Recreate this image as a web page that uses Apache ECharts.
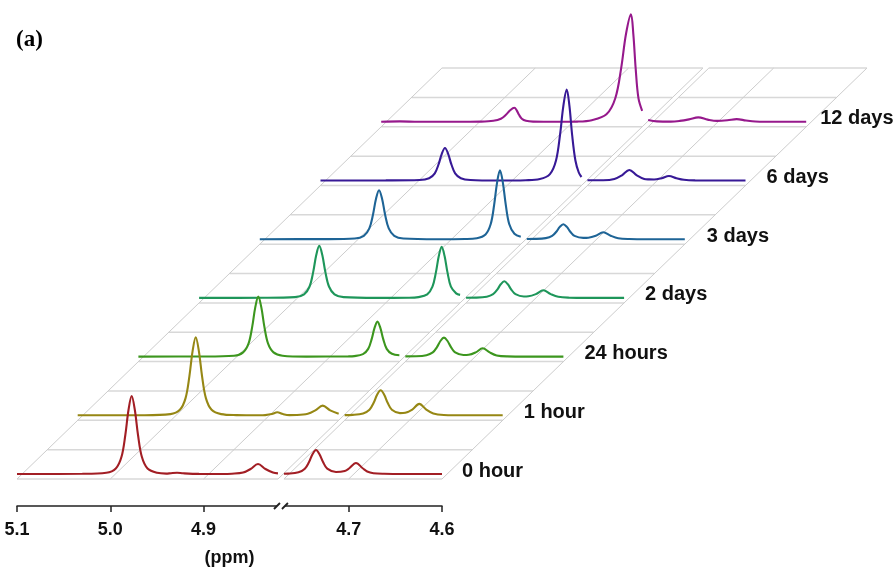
<!DOCTYPE html>
<html><head><meta charset="utf-8">
<script src="https://cdn.jsdelivr.net/npm/echarts@6/dist/echarts.min.js"></script>
<style>html,body{margin:0;padding:0;background:#fff}#c{width:895px;height:567px}</style>
</head><body><div id="c"></div>
<script>
// ---- data (ppm, intensity) ----
const seriesNames = ['0 hour', '1 hour', '24 hours', '2 days', '3 days', '6 days', '12 days'];
const tickValues = [5.1, 5.0, 4.9, 4.7, 4.6];
const breakStart = 4.7694, breakEnd = 4.8203;   // omitted HDO region

const spec0h = [[5.1,0],[5.03,0.2],[5.0043,1.2],[4.9941,5.5],[4.988,17.2],[4.9839,39],[4.9805,64],[4.9771,78],[4.9737,64],[4.9703,39],[4.9662,17.2],[4.9601,5.5],[4.9499,1.2],[4.94,0.4],[4.935,0.8],[4.9285,1.2],[4.922,0.7],[4.905,0.1],[4.88,0],[4.8697,0.3],[4.8577,1.5],[4.8497,5],[4.8417,10],[4.8337,5],[4.8257,1.5],[4.8203,0.6],[4.795,'-'],[4.7694,0.3],[4.765,0.4],[4.7538,1.7],[4.747,5.3],[4.7425,12],[4.7388,19.7],[4.735,24],[4.7313,19.7],[4.7275,12],[4.723,5.3],[4.7136,2],[4.7042,3],[4.6997,5.5],[4.6922,11],[4.6847,5.5],[4.6802,2.5],[4.6735,0.8],[4.6622,0.2],[4.64,0],[4.6,0]];
const spec1h = [[5.1,0],[5.03,0.1],[5.0007,1.2],[4.9905,5.5],[4.9844,17.2],[4.9803,39],[4.9769,64],[4.9735,78],[4.9701,64],[4.9667,39],[4.9626,17.2],[4.9565,5.5],[4.9463,1.2],[4.93,0.2],[4.905,0],[4.899,0.2],[4.892,1.2],[4.8861,3],[4.88,1.2],[4.873,0.2],[4.8654,0.3],[4.8534,1.5],[4.8454,4.9],[4.8374,9.7],[4.8294,4.9],[4.8203,1.5],[4.795,'-'],[4.7694,0.2],[4.7608,0.4],[4.7496,1.8],[4.7428,5.5],[4.7383,12.5],[4.7346,20.5],[4.7308,25],[4.727,20.5],[4.7233,12.5],[4.7188,5.5],[4.7101,2.2],[4.7044,2.6],[4.6969,5.7],[4.6894,11.4],[4.6819,5.7],[4.6744,1.7],[4.6631,0.3],[4.64,0],[4.6,0]];
const spec24h = [[5.1,0],[5.03,0.1],[4.9975,0.9],[4.9878,4.2],[4.9819,13.2],[4.978,30],[4.9748,49],[4.9715,60],[4.9682,49],[4.965,30],[4.9611,13.2],[4.9552,4.2],[4.9455,0.9],[4.92,0],[4.875,0.2],[4.8686,0.5],[4.8593,2.5],[4.8537,7.7],[4.85,17.5],[4.8469,28.7],[4.8438,35],[4.8407,28.7],[4.8376,17.5],[4.8339,7.7],[4.8283,2.8],[4.8203,1.3],[4.795,'-'],[4.7694,0.2],[4.758,0.3],[4.7468,1.3],[4.74,4.2],[4.7355,9.5],[4.7318,15.6],[4.728,19],[4.7242,15.6],[4.7205,9.5],[4.716,4.2],[4.7072,1.6],[4.7015,1.8],[4.694,4.2],[4.6865,8.3],[4.679,4.2],[4.6715,1.2],[4.6603,0.2],[4.64,0],[4.6,0]];
const spec2d = [[5.1,0],[5.03,0.1],[4.9972,0.8],[4.9875,3.6],[4.9816,11.4],[4.9777,26],[4.9745,42.6],[4.9712,52],[4.9679,42.6],[4.9647,26],[4.9608,11.4],[4.9549,3.6],[4.9452,0.8],[4.91,0],[4.875,0.1],[4.8648,0.8],[4.8555,3.6],[4.8499,11.2],[4.8462,25.5],[4.8431,41.8],[4.84,51],[4.8369,41.8],[4.8338,25.5],[4.8301,11.2],[4.8245,4.5],[4.8203,3],[4.795,'-'],[4.7694,0.2],[4.7584,0.3],[4.7472,1.2],[4.7404,3.7],[4.7359,8.3],[4.7322,13.6],[4.7284,16.6],[4.7246,13.6],[4.7209,8.3],[4.7164,3.7],[4.7075,1.4],[4.7026,1.6],[4.6946,3.8],[4.6866,7.6],[4.6786,3.8],[4.6706,1.1],[4.6586,0.2],[4.64,0],[4.6,0]];
const spec3d = [[5.1,0],[5.03,0.1],[4.9982,0.7],[4.9885,3.4],[4.9826,10.8],[4.9787,24.5],[4.9755,40.2],[4.9722,49],[4.9689,40.2],[4.9657,24.5],[4.9618,10.8],[4.9559,3.4],[4.9462,0.7],[4.91,0],[4.88,0.2],[4.8674,1],[4.8581,4.8],[4.8525,15.2],[4.8488,34.5],[4.8457,56.6],[4.8426,69],[4.8395,56.6],[4.8364,34.5],[4.8327,15.2],[4.8271,5.5],[4.8203,2.5],[4.795,'-'],[4.7694,0.2],[4.7602,0.3],[4.749,1.1],[4.7422,3.3],[4.7377,7.5],[4.734,12.3],[4.7302,15],[4.7264,12.3],[4.7227,7.5],[4.7182,3.3],[4.7088,1.3],[4.7034,1.5],[4.6954,3.5],[4.6874,7],[4.6794,3.5],[4.6714,1],[4.6594,0.2],[4.64,0],[4.6,0]];
const spec6d = [[5.1,0],[5.03,0.1],[4.9938,0.5],[4.9836,2.3],[4.9775,7.2],[4.9734,16.3],[4.97,26.7],[4.9666,32.5],[4.9632,26.7],[4.9598,16.3],[4.9557,7.2],[4.9496,2.3],[4.9394,0.5],[4.91,0],[4.88,0.3],[4.8649,1.4],[4.8541,6.4],[4.8476,20],[4.8433,45.5],[4.8397,74.6],[4.8361,91],[4.8332,74.6],[4.8303,45.5],[4.8268,20],[4.8232,8],[4.8203,3.5],[4.795,'-'],[4.7694,0.2],[4.7525,0.3],[4.7405,1.6],[4.7325,5.2],[4.7245,10.5],[4.7165,5.2],[4.7085,1.6],[4.7033,1.1],[4.698,1.0],[4.69,2.3],[4.682,4.5],[4.674,2.3],[4.666,0.7],[4.654,0.1],[4.63,0],[4.6,0]];
const spec12d = [[5.1,0],[5.08,0.4],[5.06,0],[5.02,0],[4.9933,0.2],[4.9798,1],[4.9717,3.1],[4.9663,7],[4.9618,11.5],[4.9573,14],[4.9548,11.5],[4.9523,7],[4.9493,3.1],[4.9448,1],[4.9373,0.2],[4.91,0],[4.89,0.2],[4.8743,1.6],[4.8586,7.5],[4.8491,23.6],[4.8428,53.7],[4.8376,88],[4.8323,107.4],[4.8298,88],[4.8273,53.7],[4.8243,23.6],[4.8203,11],[4.795,'-'],[4.7694,1.8],[4.76,0.4],[4.745,0.2],[4.7356,0.9],[4.7256,2.4],[4.7156,4.4],[4.7056,2.2],[4.6956,0.9],[4.6845,1.5],[4.6745,2.7],[4.6645,1.3],[4.6545,0.3],[4.63,0],[4.6,0]];
const spectra = [spec0h, spec1h, spec24h, spec2d, spec3d, spec6d, spec12d];
const colors = ['#a21e24', '#968714', '#3c961e', '#1e965a', '#1e6496', '#371996', '#96198c'];

// ---- layout (styling only) ----
const FRONT_LEFT = 17, AXIS_W = 425, BASE0 = 474, STEP_X = 60.7, STEP_Y = 58.7, PLOT_H = 120;
const AXIS_OFFSET = 32, FLOOR_DROP = 5, FLOOR_DEPTH = 7;
const FONT = 'Liberation Sans, Arial, sans-serif';
const labelGaps = [20, 21, 21, 21, 22, 21, 14];

const grids = [], xAxes = [], yAxes = [], series = [];
spectra.forEach((data, k) => {
  grids.push({ left: FRONT_LEFT + k * STEP_X, width: AXIS_W, top: BASE0 - k * STEP_Y - PLOT_H, height: PLOT_H, outerBoundsMode: 'none', containLabel: false });
  xAxes.push({
    gridIndex: k, type: 'value', min: 4.6, max: 5.1, inverse: true, show: k === 0,
    breaks: [{ start: breakStart, end: breakEnd, gap: 0.0064 }],
    breakArea: { show: false, expandOnClick: false },
    offset: AXIS_OFFSET,
    name: k === 0 ? '(ppm)' : '', nameLocation: 'middle', nameGap: 43,
    nameTextStyle: { fontFamily: FONT, fontWeight: 'bold', fontSize: 18, color: '#111' },
    axisLine: { show: true, onZero: false, lineStyle: { color: '#222', width: 1.5 } },
    axisTick: { show: true, inside: false, customValues: tickValues, length: 6, lineStyle: { color: '#222', width: 1.5 } },
    axisLabel: { show: true, inside: false, customValues: tickValues, margin: 15, formatter: v => v.toFixed(1), fontFamily: FONT, fontWeight: 'bold', fontSize: 18, color: '#111' },
    splitLine: { show: false }
  });
  yAxes.push({ gridIndex: k, type: 'value', min: 0, max: PLOT_H, show: false });
  series.push({
    name: seriesNames[k], type: 'line', xAxisIndex: k, yAxisIndex: k, data: data,
    showSymbol: false, smooth: 0.35, connectNulls: false, clip: false, z: 10 - k,
    lineStyle: { color: colors[k], width: 2.1 }, itemStyle: { color: colors[k] },
    endLabel: { show: true, formatter: '{a}', align: 'left', distance: -labelGaps[k], offset: [0, -3], fontFamily: FONT, fontWeight: 'bold', fontSize: 20, color: '#111' },
    emphasis: { disabled: true }
  });
});

const option = {
  animation: false, backgroundColor: '#fff',
  title: { text: '(a)', left: 11, top: 24, textStyle: { fontFamily: 'Liberation Serif, Times New Roman, serif', fontWeight: 'bold', fontSize: 23, color: '#000' } },
  grid: grids, xAxis: xAxes, yAxis: yAxes, series: series
};

const chart = echarts.init(document.getElementById('c'), null, { renderer: 'canvas' });
chart.setOption(option);

// ---- pseudo-3D floor computed from the axes ----
function px(k, ppm) { return chart.convertToPixel({ xAxisIndex: k, yAxisIndex: k }, [ppm, 0]); }
const p0 = px(0, 5.1), p1 = px(1, 5.1);
const ddx = p1[0] - p0[0], ddy = p1[1] - p0[1];
function fp(ppm, depth) { const p = px(0, ppm); return [p[0] + depth * ddx, p[1] + depth * ddy + FLOOR_DROP]; }
const g = [];
for (let j = 0; j <= FLOOR_DEPTH * 2; j++) {
  const d = j / 2;
  [[5.1, breakEnd], [breakStart, 4.6]].forEach(([a, b]) => {
    const A = fp(a, d), B = fp(b, d);
    g.push({ type: 'line', silent: true, z: 0, shape: { x1: A[0], y1: A[1], x2: B[0], y2: B[1] }, style: { stroke: '#d8d8d8', lineWidth: 1.5 } });
  });
}
tickValues.concat([breakEnd, breakStart]).forEach(v => {
  const A = fp(v, 0), B = fp(v, FLOOR_DEPTH);
  g.push({ type: 'line', silent: true, z: 0, shape: { x1: A[0], y1: A[1], x2: B[0], y2: B[1] }, style: { stroke: '#cdcdcd', lineWidth: 1 } });
});
// axis break mark "//" on the ppm axis
const xL = px(0, breakEnd)[0], xR = px(0, breakStart)[0], ay = p0[1] + AXIS_OFFSET;
g.push({ type: 'rect', silent: true, z: 50, shape: { x: xL - 1, y: ay - 3, width: xR - xL + 2, height: 6 }, style: { fill: '#fff' } });
[xL - 1, xR + 1].forEach(cx => {
  g.push({ type: 'line', silent: true, z: 51, shape: { x1: cx - 3, y1: ay + 3, x2: cx + 3, y2: ay - 3 }, style: { stroke: '#222', lineWidth: 1.8 } });
});
chart.setOption({ graphic: g });
</script></body></html>
